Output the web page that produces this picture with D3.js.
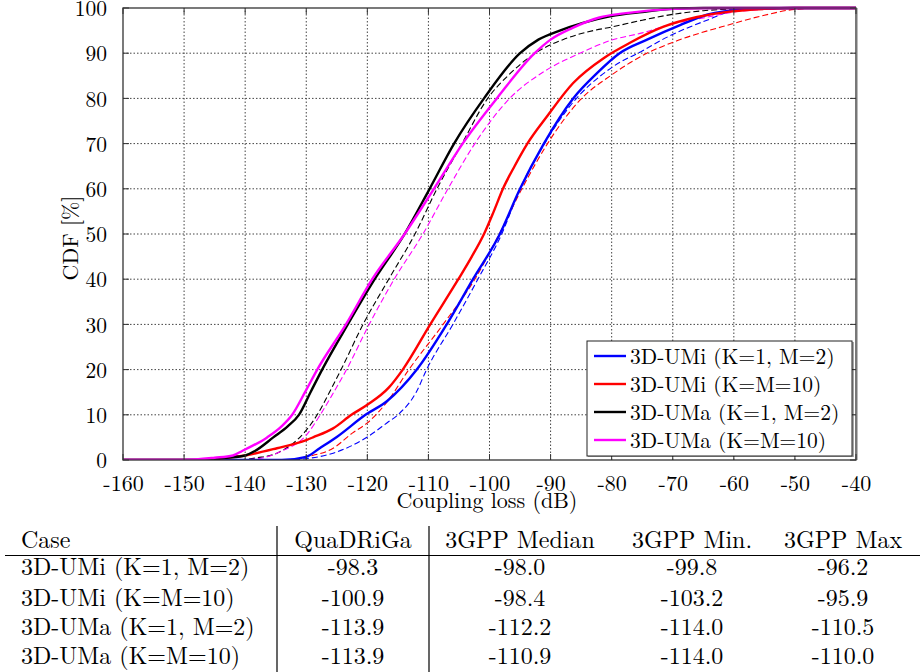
<!DOCTYPE html>
<html><head><meta charset="utf-8">
<script src="https://cdn.jsdelivr.net/npm/d3@7"></script>
<style>
body{margin:0;background:#fff}
svg{display:block}
text{font-family:"Latin Modern Roman","CMU Serif","Liberation Serif",serif;fill:#000}
</style>
</head><body>
<svg id="chart" width="920" height="672"></svg>
<script>
// ---------- DATA ----------
const xTicks = [-160,-150,-140,-130,-120,-110,-100,-90,-80,-70,-60,-50,-40];
const yTicks = [0,10,20,30,40,50,60,70,80,90,100];

// QuaDRiGa (solid) CDF curves: [coupling loss dB, CDF %]
const umiK1M2 = [[-160,0],[-134,0],[-130,0.7],[-127.8,2.6],[-125,5.1],[-120.3,10],[-116.8,13],[-111.9,20],[-107,30],[-102.7,40],[-98.3,50],[-95,60],[-91.1,70],[-86.3,80],[-82.4,85.6],[-78.7,90],[-74.2,93],[-68.8,96.2],[-64.4,98.5],[-58,99.7],[-50,100],[-40,100]];
const umiK10M10 = [[-160,0],[-148,0],[-143,0.5],[-140,1],[-134.8,2.6],[-130,4.4],[-128.9,5],[-125.6,7],[-122.6,10],[-120,12.2],[-116.5,16],[-114.2,20],[-109.7,30],[-105.1,40],[-102.9,45],[-100.9,50],[-99.3,55],[-97.8,60],[-95.9,65],[-93.8,70],[-90.6,76],[-86.3,83.4],[-81.2,89],[-77,92.3],[-71.6,95.8],[-66,98],[-60.7,99.2],[-55,99.8],[-50,100],[-40,100]];
const umaK1M2 = [[-160,0],[-147,0],[-143,0.5],[-140,1],[-138.4,2],[-135.4,5],[-133,7.5],[-131.2,10],[-129.3,15],[-127.4,20],[-123.2,30],[-118.8,40],[-113.9,50],[-109.8,60],[-105.8,70],[-100.9,80],[-95,90],[-92,93],[-88.5,95],[-84.7,96.7],[-80.1,98.2],[-75,99.1],[-70,99.8],[-65,100],[-40,100]];
const umaK10M10 = [[-160,0],[-150,0],[-145,0.5],[-142,1],[-140.5,2],[-136.4,5],[-134,7.5],[-132.3,10],[-130.2,15],[-128.2,20],[-123.5,30],[-119.2,40],[-113.9,50],[-109.1,60],[-104.4,70],[-98.8,80],[-92.6,90],[-90,93],[-86.4,95.6],[-82,97.9],[-78,98.8],[-70,99.8],[-63,100],[-40,100]];

// 3GPP reference (dashed) CDF curves
const umiK1M2Ref = [[-160,0],[-133,0],[-130,0.3],[-125.6,1.5],[-120,5.1],[-116.8,8.2],[-115,10],[-112,15],[-110.3,20],[-106,30],[-101.9,40],[-98,50],[-95,60],[-91,70],[-87,78],[-79.8,87],[-75,90.5],[-71,93.5],[-64.4,97.3],[-60,99.4],[-55,100],[-40,100]];
const umiK10M10Ref = [[-160,0],[-133,0],[-130,0.7],[-125.6,2.6],[-122.4,6],[-120,8.2],[-116.8,12.8],[-113.2,20],[-107.6,30],[-102.4,40],[-98.4,50],[-94.7,60],[-90.5,70],[-85.2,79.6],[-80,85.2],[-74.5,89.8],[-69,92.9],[-60.5,96.4],[-55,98.4],[-50,99.7],[-45,100],[-40,100]];
const umaK1M2Ref = [[-160,0],[-142,0],[-138,0.5],[-134.8,1.5],[-130,6.6],[-128.2,10],[-126.2,15],[-124.3,20],[-120.7,30],[-116.5,40],[-112.2,50],[-108.6,60],[-104.5,70],[-100.3,80],[-97,85],[-92.5,90],[-88,93],[-83,95],[-80,95.8],[-75,97.3],[-70,98.6],[-65,99.4],[-60,99.8],[-55,100],[-40,100]];
const umaK10M10Ref = [[-160,0],[-141,0],[-137,0.5],[-134,2],[-130,5.5],[-127.7,10],[-125.5,15],[-123.4,20],[-119.7,30],[-115.6,40],[-110.9,50],[-106.8,60],[-102.4,70],[-96.7,80],[-91,86],[-85.2,90],[-80,92.9],[-75,94.5],[-70,96.5],[-65,97.8],[-60,99.1],[-55,99.7],[-50,100],[-40,100]];

const legendLabels = ["3D-UMi (K=1, M=2)","3D-UMi (K=M=10)","3D-UMa (K=1, M=2)","3D-UMa (K=M=10)"];
const seriesColors = ["#0000ff","#ff0000","#000000","#ff00ff"];

// Table
const tableHeaders = ["Case","QuaDRiGa","3GPP Median","3GPP Min.","3GPP Max"];
const tableCases = ["3D-UMi (K=1, M=2)","3D-UMi (K=M=10)","3D-UMa (K=1, M=2)","3D-UMa (K=M=10)"];
const quadrigaMedian = ["-98.3","-100.9","-113.9","-113.9"];
const gppMedian = ["-98.0","-98.4","-112.2","-110.9"];
const gppMin = ["-99.8","-103.2","-114.0","-114.0"];
const gppMax = ["-96.2","-95.9","-110.5","-110.0"];

// ---------- DRAW ----------
const FONT = "Latin Modern Roman, CMU Serif, Liberation Serif, serif";
const svg = d3.select("#chart");
svg.append("rect").attr("width",920).attr("height",672).attr("fill","#fff");

const x = d3.scaleLinear().domain([-160,-40]).range([123,856]);
const y = d3.scaleLinear().domain([0,100]).range([460,8]);

const plot = svg.append("g");

// grid
plot.append("g").selectAll("line").data(xTicks.slice(1,-1)).join("line")
  .attr("x1",d=>x(d)).attr("x2",d=>x(d)).attr("y1",y(0)).attr("y2",y(100))
  .attr("stroke","#444").attr("stroke-width",1).attr("stroke-dasharray","1.5,2");
plot.append("g").selectAll("line").data(yTicks.slice(1,-1)).join("line")
  .attr("y1",d=>y(d)).attr("y2",d=>y(d)).attr("x1",x(-160)).attr("x2",x(-40))
  .attr("stroke","#444").attr("stroke-width",1).attr("stroke-dasharray","1.5,2");

// clip
svg.append("clipPath").attr("id","clip").append("rect")
  .attr("x",x(-160)).attr("y",y(100)-2).attr("width",x(-40)-x(-160)).attr("height",y(0)-y(100)+2);

const line = d3.line().x(d=>x(d[0])).y(d=>y(d[1])).curve(d3.curveMonotoneX);
const lines = plot.append("g").attr("clip-path","url(#clip)");
const dashed = [umiK1M2Ref, umiK10M10Ref, umaK1M2Ref, umaK10M10Ref];
const solid = [umiK1M2, umiK10M10, umaK1M2, umaK10M10];
dashed.forEach((s,i)=>{
  lines.append("path").datum(s).attr("d",line).attr("fill","none")
    .attr("stroke",seriesColors[i]).attr("stroke-width",1.1).attr("stroke-dasharray","6,3");
});
solid.forEach((s,i)=>{
  lines.append("path").datum(s).attr("d",line).attr("fill","none")
    .attr("stroke",seriesColors[i]).attr("stroke-width",2.4).attr("stroke-linejoin","round");
});

// frame
plot.append("rect").attr("x",x(-160)).attr("y",y(100)).attr("width",x(-40)-x(-160)).attr("height",y(0)-y(100))
  .attr("fill","none").attr("stroke","#333").attr("stroke-width",1.3);
plot.append("line").attr("x1",x(-40)+0.5).attr("x2",x(-40)+0.5).attr("y1",y(100)).attr("y2",y(0))
  .attr("stroke","#777").attr("stroke-width",2);

// inward ticks
const tk = 6;
const tg = plot.append("g").attr("stroke","#333").attr("stroke-width",1);
xTicks.forEach(v=>{
  tg.append("line").attr("x1",x(v)).attr("x2",x(v)).attr("y1",y(0)).attr("y2",y(0)-tk);
  tg.append("line").attr("x1",x(v)).attr("x2",x(v)).attr("y1",y(100)).attr("y2",y(100)+tk);
});
yTicks.forEach(v=>{
  tg.append("line").attr("y1",y(v)).attr("y2",y(v)).attr("x1",x(-160)).attr("x2",x(-160)+tk);
  tg.append("line").attr("y1",y(v)).attr("y2",y(v)).attr("x1",x(-40)).attr("x2",x(-40)-tk);
});

// axes labels
const xAxis = d3.axisBottom(x).tickValues(xTicks).tickSize(0).tickPadding(15).tickFormat(d=>String(d));
const gx = svg.append("g").attr("transform",`translate(0,${y(0)})`).call(xAxis);
gx.select(".domain").remove();
gx.selectAll("text").attr("font-size",22).attr("font-family",FONT).attr("fill","#000");

const yAxis = d3.axisLeft(y).tickValues(yTicks).tickSize(0).tickPadding(16).tickFormat(d=>String(d));
const gy = svg.append("g").attr("transform",`translate(${x(-160)},0)`).call(yAxis);
gy.select(".domain").remove();
gy.selectAll("text").attr("font-size",21.5).attr("font-family",FONT).attr("fill","#000").attr("dy","0.36em");

svg.append("text").attr("x",487).attr("y",508).attr("text-anchor","middle").attr("font-size",22)
  .text("Coupling loss (dB)");
svg.append("text").attr("transform","translate(78,238) rotate(-90)").attr("text-anchor","middle")
  .attr("font-size",22).text("CDF [%]");

// legend
const lg = svg.append("g");
lg.append("rect").attr("x",588).attr("y",342).attr("width",266).attr("height",115).attr("fill","#000").attr("opacity",0.35);
lg.append("rect").attr("x",587).attr("y",341).attr("width",265).attr("height",115)
  .attr("fill","#fff").attr("stroke","#222").attr("stroke-width",1);
legendLabels.forEach((lab,i)=>{
  const cy = 356 + i*28;
  lg.append("line").attr("x1",594).attr("x2",626).attr("y1",cy).attr("y2",cy)
    .attr("stroke",seriesColors[i]).attr("stroke-width",2.4);
  lg.append("text").attr("x",630).attr("y",cy+7.5).attr("font-size",21.5).text(lab);
});

// table
const tb = svg.append("g");
tb.append("line").attr("x1",5).attr("x2",920).attr("y1",555.5).attr("y2",555.5).attr("stroke","#000").attr("stroke-width",1.2);
[277,429].forEach(vx=>{
  tb.append("line").attr("x1",vx).attr("x2",vx).attr("y1",526).attr("y2",672).attr("stroke","#000").attr("stroke-width",1.2);
});
const colCenters = [null,353,520,692,843];
tableHeaders.forEach((h,i)=>{
  const t = tb.append("text").attr("y",548).attr("font-size",24).text(h);
  if(i===0) t.attr("x",21); else t.attr("x",colCenters[i]).attr("text-anchor","middle");
});
const rowY = [575,606,635,664];
tableCases.forEach((c,r)=>{
  tb.append("text").attr("x",21).attr("y",rowY[r]).attr("font-size",24).text(c);
  [quadrigaMedian,gppMedian,gppMin,gppMax].forEach((arr,j)=>{
    tb.append("text").attr("x",colCenters[j+1]).attr("y",rowY[r]).attr("text-anchor","middle")
      .attr("font-size",24).text(arr[r]);
  });
});
</script>
</body></html>
